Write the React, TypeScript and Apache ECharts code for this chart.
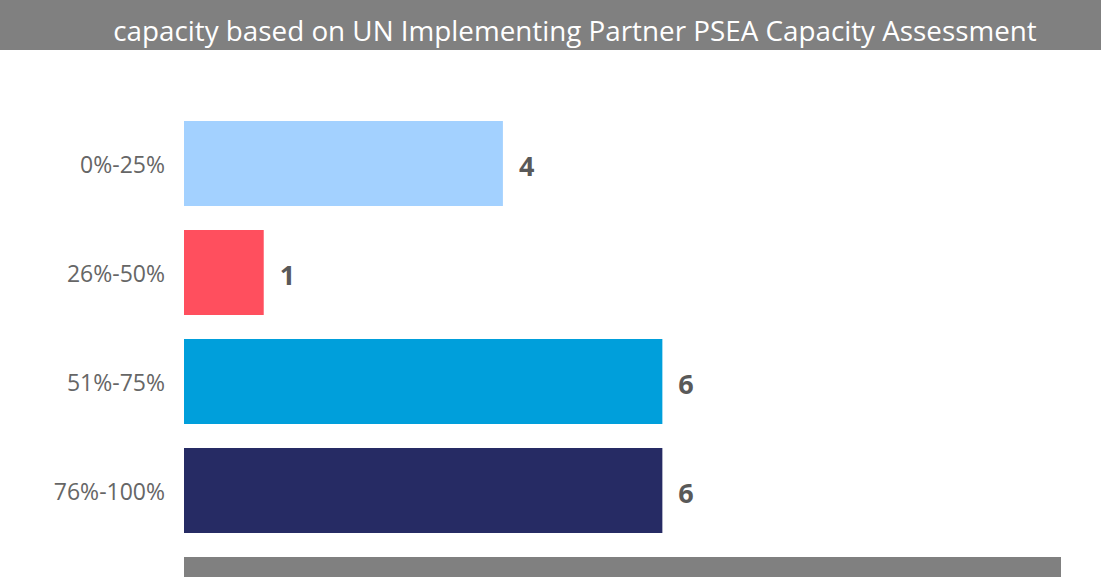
import React, { useEffect, useRef } from "react";
import * as echarts from "echarts";

const categories = ["0%-25%", "26%-50%", "51%-75%", "76%-100%"];
const values = [4, 1, 6, 6];
const barColors = ["#A3D1FF", "#FF4F5E", "#009FDB", "#262B64"];
const titleText = "capacity based on UN Implementing Partner PSEA Capacity Assessment";
const axisMax = 11;

export default function App() {
  const ref = useRef<HTMLDivElement>(null);
  useEffect(() => {
    if (!ref.current) return;
    const chart = echarts.init(ref.current, null, { renderer: "svg" });
    const font = "'Open Sans', 'Noto Sans', sans-serif";
    chart.setOption({
      animation: false,
      backgroundColor: "#ffffff",
      grid: { left: 184, right: 40, top: 109, bottom: 32, containLabel: false },
      xAxis: {
        type: "value",
        min: 0,
        max: axisMax,
        show: false,
      },
      yAxis: {
        type: "category",
        data: categories,
        inverse: true,
        axisLine: { show: false },
        axisTick: { show: false },
        splitLine: { show: false },
        axisLabel: {
          margin: 19,
          color: "#666666",
          fontSize: 23,
          fontFamily: font,
        },
      },
      series: [
        {
          type: "bar",
          barCategoryGap: "22%",
          data: values.map((v, i) => ({ value: v, itemStyle: { color: barColors[i] } })),
          label: {
            show: true,
            position: "right",
            distance: 16,
            offset: [0, 2],
            color: "#595959",
            fontSize: 27,
            fontWeight: "bold",
            fontFamily: font,
          },
        },
      ],
      graphic: [
        {
          type: "rect",
          x: 0,
          y: 0,
          shape: { width: 1101, height: 50 },
          style: { fill: "#808080" },
          silent: true,
        },
        {
          type: "text",
          x: 575,
          y: 30,
          style: {
            text: titleText,
            fill: "#ffffff",
            fontSize: 27.8,
            fontFamily: font,
            align: "center",
            verticalAlign: "middle",
          },
        },
        {
          type: "rect",
          x: 184,
          y: 557,
          shape: { width: 877, height: 20 },
          style: { fill: "#808080" },
          silent: true,
        },
      ],
    });
    return () => chart.dispose();
  }, []);
  return (
    <div
      ref={ref}
      style={{ position: "fixed", left: 0, top: 0, width: 1101, height: 577 }}
    />
  );
}
